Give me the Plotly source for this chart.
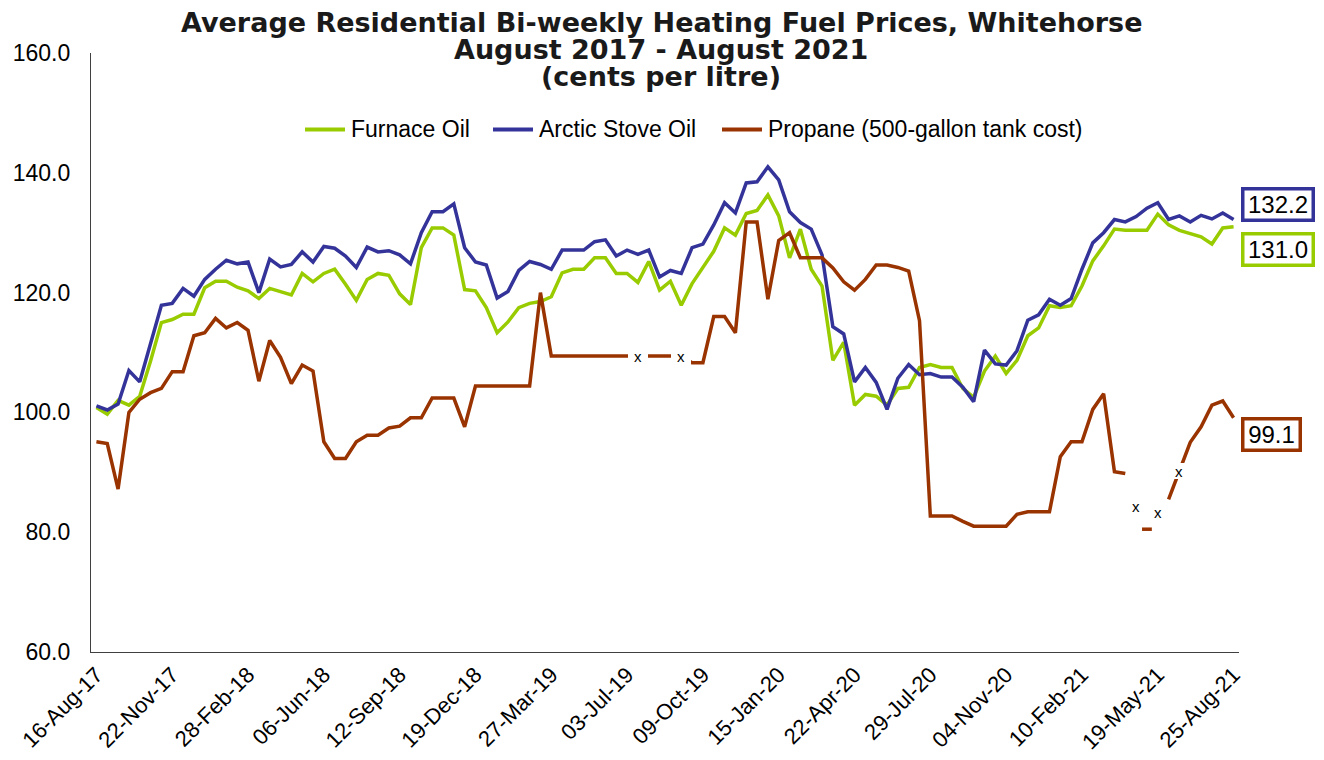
import pandas as pd
import plotly.graph_objects as go

# ---------------- data ----------------
dates = pd.date_range("2017-08-16", periods=106, freq="14D")
date_labels = [d.strftime("%d-%b-%y") for d in dates]

furnace_oil = [
    100.8, 99.7, 102.0, 101.2, 102.7, 108.6, 115.0, 115.5, 116.4, 116.4,
    120.8, 121.9, 121.9, 120.9, 120.3, 119.0, 120.7, 120.2, 119.6, 123.2,
    121.8, 123.2, 123.9, 121.4, 118.7, 122.2, 123.2, 122.9, 119.8, 118.0,
    127.5, 130.8, 130.8, 129.6, 120.5, 120.3, 117.5, 113.3, 115.1, 117.5,
    118.2, 118.5, 119.3, 123.3, 123.9, 123.9, 125.8, 125.8, 123.2, 123.2,
    121.7, 125.2, 120.4, 121.9, 117.9, 121.5, 124.1, 126.9, 130.8, 129.6,
    133.2, 133.7, 136.3, 132.8, 125.8, 130.6, 123.9, 121.1, 108.7, 111.7,
    101.2, 103.0, 102.7, 101.2, 104.0, 104.2, 107.5, 108.0, 107.5, 107.5,
    104.0, 102.5, 106.9, 109.4, 106.5, 108.7, 112.8, 114.1, 117.8, 117.5,
    117.8, 121.1, 125.3, 127.8, 130.6, 130.4, 130.4, 130.4, 133.1, 131.3,
    130.4, 129.8, 129.3, 128.1, 130.8, 131.0,
]

arctic_stove_oil = [
    101.1, 100.4, 101.4, 107.0, 105.1, 111.4, 117.9, 118.2, 120.7, 119.4,
    122.2, 123.9, 125.4, 124.8, 125.1, 120.0, 125.6, 124.3, 124.7, 126.8,
    125.1, 127.7, 127.4, 126.1, 124.2, 127.6, 126.8, 127.0, 126.3, 124.8,
    130.0, 133.5, 133.5, 134.8, 127.5, 125.1, 124.6, 119.1, 120.2, 123.7,
    125.2, 124.7, 123.9, 127.1, 127.1, 127.1, 128.5, 128.8, 126.1, 127.1,
    126.4, 127.1, 122.6, 123.7, 123.2, 127.5, 128.1, 131.3, 135.0, 133.3,
    138.3, 138.5, 141.0, 138.8, 133.5, 131.7, 130.6, 126.3, 114.3, 113.1,
    105.1, 107.5, 105.0, 100.5, 105.7, 108.0, 106.3, 106.5, 105.9, 105.9,
    104.2, 101.8, 110.4, 108.1, 107.9, 110.3, 115.4, 116.3, 118.9, 117.9,
    119.0, 123.9, 128.3, 130.0, 132.2, 131.8, 132.7, 134.1, 135.0, 132.2,
    132.8, 131.8, 132.9, 132.3, 133.3, 132.2,
]

propane = [
    95.1, 94.8, 87.2, 100.0, 102.2, 103.3, 104.0, 106.8, 106.8, 112.8,
    113.3, 115.7, 114.1, 115.0, 113.7, 105.2, 112.0, 109.2, 104.8, 107.9,
    106.9, 95.1, 92.3, 92.3, 95.1, 96.2, 96.2, 97.4, 97.7, 99.1,
    99.1, 102.4, 102.4, 102.4, 97.6, 104.4, 104.4, 104.4, 104.4, 104.4,
    104.4, 120.0, 109.4, 109.4, 109.4, 109.4, 109.4, 109.4, 109.4, 109.4,
    109.4, 109.4, 109.4, 109.4, 109.4, 108.3, 108.3, 116.0, 116.0, 113.3,
    131.8, 131.8, 118.9, 128.7, 130.0, 125.8, 125.8, 125.8, 124.1, 121.8,
    120.4, 122.2, 124.6, 124.6, 124.2, 123.6, 115.3, 82.7, 82.7, 82.7,
    81.8, 81.0, 81.0, 81.0, 81.0, 83.0, 83.4, 83.4, 83.4, 92.6,
    95.1, 95.1, 100.5, 103.1, 90.1, 89.8, None, 80.5, None, 85.5,
    90.3, 95.0, 97.6, 101.2, 101.9, 99.1,
]

# "x" flags shown on the propane series (period index, value)
x_flag_idx = [50, 54, 96, 98, 100]
x_flag_val = [109.4, 109.4, 84.4, 83.3, 90.2]

series_names = ["Furnace Oil", "Arctic Stove Oil", "Propane (500-gallon tank cost)"]
series_colors = ["#99CC00", "#333399", "#993300"]
y_ticks = [60, 80, 100, 120, 140, 160]

title_lines = [
    "Average Residential Bi-weekly Heating Fuel Prices, Whitehorse",
    "August 2017 - August 2021",
    "(cents per litre)",
]

# ---------------- layout geometry (page pixels) ----------------
PAGE_OFF = 8                      # browser body margin
PLOT_L, PLOT_R, PLOT_T, PLOT_B = 91, 1239, 52.5, 652
FIG_W, FIG_H = 1324 - PAGE_OFF, 760 - PAGE_OFF
PW, PH = PLOT_R - PLOT_L, PLOT_B - PLOT_T


def px_x(p):
    return (p - PLOT_L) / PW


def px_y(p):
    return 1 - (p - PLOT_T) / PH


# ---------------- figure ----------------
fig = go.Figure()
for name, vals, col in zip(series_names, [furnace_oil, arctic_stove_oil, propane], series_colors):
    fig.add_trace(go.Scatter(
        x=date_labels, y=vals, name=name, mode="lines",
        line=dict(color=col, width=3.5), connectgaps=False,
        hoverinfo="skip", showlegend=False,
    ))

# isolated propane points (neighbours missing) drawn as a short dash
iso_x, iso_y = [], []
for i, v in enumerate(propane):
    if v is None:
        continue
    prev_missing = i == 0 or propane[i - 1] is None
    next_missing = i == len(propane) - 1 or propane[i + 1] is None
    if prev_missing and next_missing:
        iso_x.append(date_labels[i])
        iso_y.append(v)
fig.add_trace(go.Scatter(
    x=iso_x, y=iso_y, mode="markers", showlegend=False, hoverinfo="skip",
    marker=dict(symbol="line-ew", size=7, line=dict(color=series_colors[2], width=3.5)),
))

annotations = []
shapes = []

# title (three tightly spaced lines)
title_px = [22, 49, 76]
for txt, py in zip(title_lines, title_px):
    annotations.append(dict(
        text="<b>%s</b>" % txt, xref="paper", yref="paper",
        x=px_x(661), y=px_y(py), xanchor="center", yanchor="middle",
        showarrow=False, font=dict(family="DejaVu Sans", size=27, color="#1a1a1a"),
    ))

# legend (line sample + label)
legend_item_px = [305, 493, 722]
legend_y_px = 129
for name, col, x0 in zip(series_names, series_colors, legend_item_px):
    shapes.append(dict(
        type="line", xref="paper", yref="paper",
        x0=px_x(x0), x1=px_x(x0 + 40), y0=px_y(legend_y_px), y1=px_y(legend_y_px),
        line=dict(color=col, width=4),
    ))
    annotations.append(dict(
        text=name, xref="paper", yref="paper", x=px_x(x0 + 44), y=px_y(legend_y_px),
        xanchor="left", yanchor="middle", showarrow=False,
        font=dict(family="Liberation Sans", size=23, color="black"),
    ))

# "x" flags
for i, v in zip(x_flag_idx, x_flag_val):
    annotations.append(dict(
        text="x", x=date_labels[i], y=v, xref="x", yref="y", showarrow=False,
        font=dict(family="Liberation Sans", size=15, color="black"),
        bgcolor="white", borderwidth=0, borderpad=0, width=20, height=16,
        xanchor="center", yanchor="middle",
    ))

# end-value boxes
end_vals = [furnace_oil[-1], arctic_stove_oil[-1], propane[-1]]
end_yshift = [-23, 15, -17]
end_box_w = [65, 65, 52]
for v, col, ys, bw in zip(end_vals, series_colors, end_yshift, end_box_w):
    annotations.append(dict(
        text="%.1f" % v, x=date_labels[-1], y=v, xref="x", yref="y",
        showarrow=False, xanchor="left", yanchor="middle", xshift=7, yshift=ys,
        font=dict(family="Liberation Sans", size=24, color="black"),
        bgcolor="white", bordercolor=col, borderwidth=3.5, borderpad=1,
        width=bw, height=26,
    ))

fig.update_layout(
    width=FIG_W, height=FIG_H,
    margin=dict(l=PLOT_L - PAGE_OFF, r=FIG_W - (PLOT_R - PAGE_OFF),
                t=PLOT_T - PAGE_OFF, b=FIG_H - (PLOT_B - PAGE_OFF), autoexpand=False),
    paper_bgcolor="white", plot_bgcolor="white",
    font=dict(family="Liberation Sans", color="black"),
    showlegend=False,
    annotations=annotations,
    shapes=shapes,
)
fig.update_xaxes(
    type="category", range=[-0.5, len(date_labels) - 0.5],
    tickmode="array", tickvals=date_labels[::7], ticktext=date_labels[::7],
    tickangle=-45, tickfont=dict(family="Liberation Sans", size=22, color="black"),
    showgrid=False, showline=True, linecolor="#404040", linewidth=1.2,
    ticks="", zeroline=False,
)
fig.update_yaxes(
    range=[60, 160], tickvals=y_ticks, tickformat=".1f",
    tickfont=dict(family="Liberation Sans", size=23, color="black"),
    showgrid=False, showline=True, linecolor="#404040", linewidth=1.2,
    ticks="", zeroline=False, ticklabelstandoff=15,
)

fig.write_html("out.html")
